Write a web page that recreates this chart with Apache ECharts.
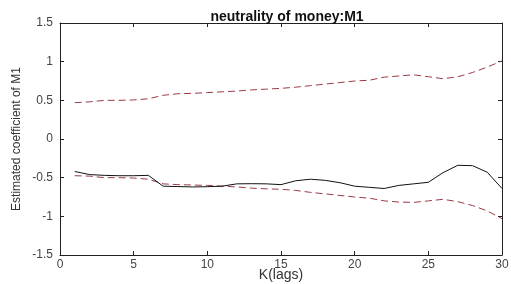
<!DOCTYPE html>
<html>
<head>
<meta charset="utf-8">
<script src="https://cdn.jsdelivr.net/npm/echarts@6/dist/echarts.min.js"></script>
<style>
  html, body { margin: 0; padding: 0; background: #fff; }
  #chart { width: 511px; height: 284px; }
</style>
</head>
<body>
<div id="chart"></div>
<script>
// lags k = 1..30
var lags = [1, 2, 3, 4, 5, 6, 7, 8, 9, 10, 11, 12, 13, 14, 15,
  16, 17, 18, 19, 20, 21, 22, 23, 24, 25, 26, 27, 28, 29, 30];

var estimate = [-0.42, -0.46, -0.47, -0.475, -0.475, -0.47, -0.61, -0.615, -0.62, -0.617,
  -0.61, -0.58, -0.578, -0.58, -0.59, -0.54, -0.52, -0.535, -0.565, -0.61,
  -0.625, -0.64, -0.60, -0.58, -0.56, -0.435, -0.34, -0.345, -0.43, -0.64];

var upperBand = [0.47, 0.48, 0.50, 0.50, 0.505, 0.52, 0.565, 0.585, 0.59, 0.60,
  0.61, 0.62, 0.635, 0.645, 0.655, 0.67, 0.69, 0.71, 0.73, 0.75,
  0.76, 0.80, 0.815, 0.83, 0.805, 0.78, 0.805, 0.86, 0.93, 1.01];

var lowerBand = [-0.475, -0.48, -0.50, -0.50, -0.505, -0.52, -0.58, -0.59, -0.595, -0.60,
  -0.61, -0.62, -0.635, -0.645, -0.65, -0.665, -0.69, -0.71, -0.73, -0.75,
  -0.765, -0.80, -0.815, -0.82, -0.80, -0.78, -0.81, -0.86, -0.93, -1.03];

var xTicks = [0, 5, 10, 15, 20, 25, 30];
var yTicks = [-1.5, -1, -0.5, 0, 0.5, 1, 1.5];

function pairs(ys) {
  return lags.map(function (k, i) { return [k, ys[i]]; });
}

var myChart = echarts.init(document.getElementById("chart"));
var font = "Liberation Sans, Arial, sans-serif";
var axisLine = { show: true, onZero: false, lineStyle: { color: "#222", width: 1 } };
var tick = { show: true, inside: true, length: 4, lineStyle: { color: "#222" } };

var option = {
  animation: false,
  title: {
    text: "neutrality of money:M1",
    left: 282,
    top: 5,
    textAlign: "center",
    textStyle: { fontFamily: font, fontSize: 14, fontWeight: "bold", color: "#111" }
  },
  grid: { left: 60, right: 9, top: 23, bottom: 29, containLabel: false, outerBoundsMode: "none" },
  xAxis: [
    {
      type: "value", min: 0, max: 30, interval: 5,
      name: "K(lags)", nameLocation: "middle", nameGap: 13, nameMoveOverlap: false,
      nameTextStyle: { fontFamily: font, fontSize: 14, color: "#333" },
      axisLine: axisLine, axisTick: tick, splitLine: { show: false },
      axisLabel: { fontFamily: font, fontSize: 12, color: "#444", margin: 4 }
    },
    {
      type: "value", min: 0, max: 30, interval: 5, position: "top",
      axisLine: axisLine, axisTick: tick, splitLine: { show: false },
      axisLabel: { show: false }
    }
  ],
  yAxis: [
    {
      type: "value", min: -1.5, max: 1.5, interval: 0.5,
      name: "Estimated coefficient of M1", nameLocation: "middle", nameGap: 37, nameMoveOverlap: false,
      nameTextStyle: { fontFamily: font, fontSize: 12, color: "#333" },
      axisLine: axisLine, axisTick: tick, splitLine: { show: false },
      axisLabel: { fontFamily: font, fontSize: 12, color: "#444", margin: 7 }
    },
    {
      type: "value", min: -1.5, max: 1.5, interval: 0.5, position: "right",
      axisLine: axisLine, axisTick: tick, splitLine: { show: false },
      axisLabel: { show: false }
    }
  ],
  series: [
    {
      name: "upper", type: "line", data: pairs(upperBand), showSymbol: false,
      lineStyle: { color: "#9a3a48", width: 1, type: [7, 4] }
    },
    {
      name: "lower", type: "line", data: pairs(lowerBand), showSymbol: false,
      lineStyle: { color: "#9a3a48", width: 1, type: [7, 4] }
    },
    {
      name: "estimate", type: "line", data: pairs(estimate), showSymbol: false,
      lineStyle: { color: "#111", width: 1 }
    }
  ]
};

myChart.setOption(option);
</script>
</body>
</html>
